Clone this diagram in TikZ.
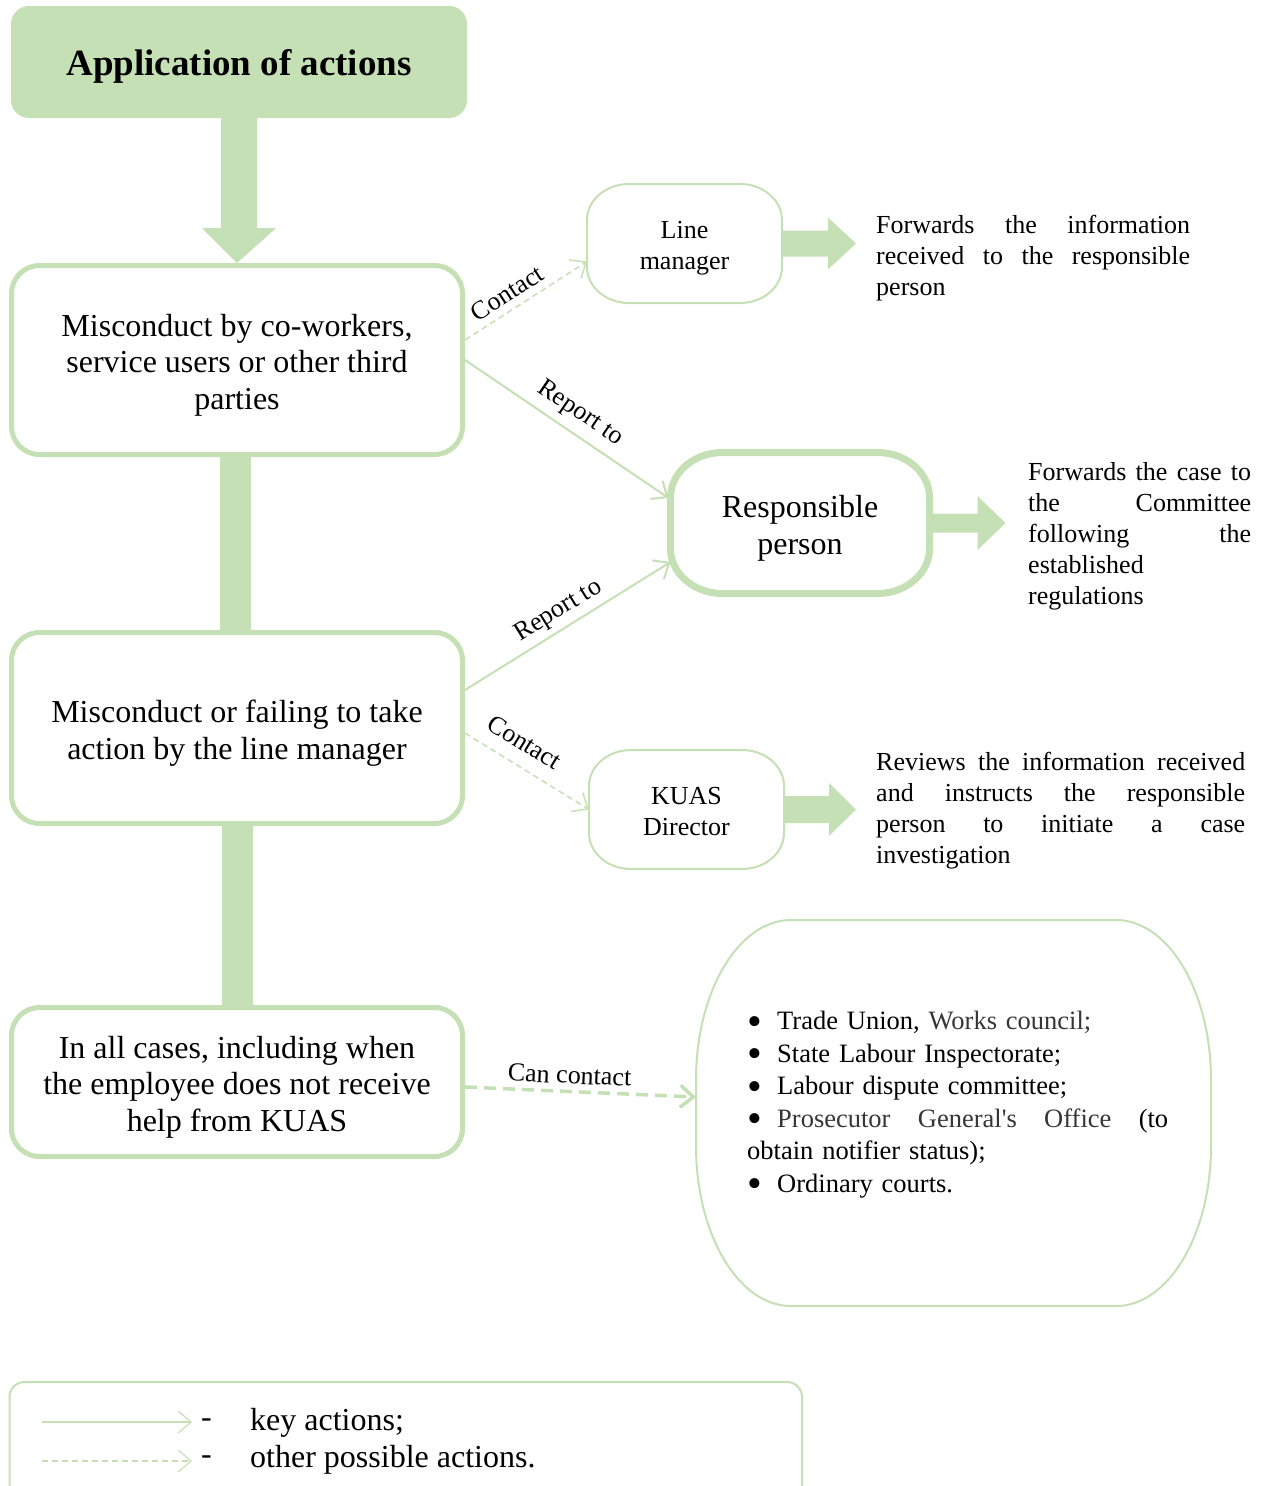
\documentclass[tikz,border=0pt]{standalone}
\usepackage{fontspec}
\setmainfont{Liberation Serif}
\usetikzlibrary{arrows.meta,calc,backgrounds}
\definecolor{gr}{HTML}{C5E0B4}
\definecolor{dk}{HTML}{363636}
\newcommand\fsM{\fontsize{32}{36.5}\selectfont}
\newcommand\fsT{\fontsize{37}{44}\selectfont\bfseries}
\newcommand\fsR{\fontsize{32}{37}\selectfont}
\newcommand\fsS{\fontsize{26}{31}\selectfont}
\newcommand\fsB{\fontsize{26.5}{32.5}\selectfont}
\newcommand\fsL{\fontsize{26}{31}\selectfont}
\newcommand\fsG{\fontsize{32}{37}\selectfont}
\newcommand\bul{\makebox[30pt][l]{\hspace{0.5pt}\raisebox{-5.5pt}{\fontsize{42}{42}\selectfont\textbullet}}}
\newcommand\jst[2]{\leavevmode\hbox to #1{\spaceskip=0.25em plus 1fil\relax #2}}
\newcommand\ellbox[4]{%
\draw[#4] ([xshift=#2]#1.north west) -- ([xshift=-#2]#1.north east)
  arc[start angle=90,end angle=0,x radius=#2,y radius=#3]
  -- ([yshift=#3]#1.south east)
  arc[start angle=0,end angle=-90,x radius=#2,y radius=#3]
  -- ([xshift=#2]#1.south west)
  arc[start angle=270,end angle=180,x radius=#2,y radius=#3]
  -- ([yshift=-#3]#1.north west)
  arc[start angle=180,end angle=90,x radius=#2,y radius=#3] -- cycle;}
\newcommand\rarrow[5]{%
\fill[blk] ($(#1.east)+(0,-#3)$) -- ++(#2,0) -- ($(#1.east)+(#2,-#5)$)
  -- ($(#1.east)+(#2+#4,0)$) -- ($(#1.east)+(#2,#5)$) -- ($(#1.east)+(#2,#3)$)
  -- ($(#1.east)+(0,#3)$) -- cycle;}
\tikzset{
 mainbox/.style={draw=gr, line width=5pt, rounded corners=28pt, fill=white, inner sep=0pt},
 mtext/.style={align=center, font=\fsM, inner sep=0pt},
 titlebox/.style={fill=gr, rounded corners=18pt, minimum width=456pt, minimum height=112pt, inner sep=0pt},
 ebox/.style={draw=none, outer sep=0pt, inner sep=0pt},
 etext/.style={align=center, font=\fsS, inner sep=0pt},
 thinline/.style={draw=gr, line width=2pt},
 keyline/.style={draw=gr, line width=2pt, -{Straight Barb[length=13pt,width=22pt]}},
 otherline/.style={draw=gr, line width=1.5pt, dash pattern=on 6pt off 4pt, -{Straight Barb[length=13pt,width=22pt]}},
 canline/.style={draw=gr, line width=3.5pt, dash pattern=on 12pt off 7pt, -{Straight Barb[length=13pt,width=22pt]}},
 lbl/.style={font=\fsL, sloped, inner sep=2pt},
 desc/.style={font=\fsS, align=left, anchor=west, inner sep=0pt},
 legtext/.style={font=\fsG, anchor=west, inner sep=0pt},
 blk/.style={fill=gr},
}
\begin{document}
\begin{tikzpicture}[x=1pt,y=-1pt]
\useasboundingbox (0,0) rectangle (1263,1486);

% main column
\node[titlebox] (title) at (239,62) {};
\node[font=\fsT, inner sep=0pt] (titlet) at (239,66) {Application of actions};
\node[mainbox, minimum width=451pt, minimum height=189pt] (b1) at (237,360) {};
\node[mainbox, minimum width=451pt, minimum height=191pt] (b2) at (237,728) {};
\node[mainbox, minimum width=451pt, minimum height=149pt] (b3) at (237,1082) {};
\node[mtext] (b1t) at (237,365) {Misconduct by co-workers,\\service users or other third\\parties};
\node[mtext] (b2t) at (237,733) {Misconduct or failing to take\\action by the line manager};
\node[mtext] (b3t) at (237,1087) {In all cases, including when\\the employee does not receive\\help from KUAS};

\begin{pgfonlayer}{background}
\fill[blk] ([xshift=-17pt]b1.south) rectangle ([xshift=14pt]b2.north);
\fill[blk] ([xshift=-15pt]b2.south) rectangle ([xshift=16pt]b3.north);
\end{pgfonlayer}

\fill[blk] ($(title.south)+(-18,0)$) -- ($(title.south)+(18,0)$) -- ($(title.south)+(18,110)$)
  -- ($(title.south)+(37,110)$) -- (b1.north) -- ($(title.south)+(-37,110)$)
  -- ($(title.south)+(-18,110)$) -- cycle;

% right column shapes
\node[ebox, minimum width=195pt, minimum height=119pt] (lm) at (684.5,243.5) {};
\node[ebox, minimum width=259pt, minimum height=141pt] (rp) at (800,523) {};
\node[ebox, minimum width=195pt, minimum height=119pt] (kd) at (686.5,809.5) {};
\node[ebox, minimum width=515pt, minimum height=386pt] (big) at (953.5,1113) {};
\node[etext] (lmt) at (684.5,248.5) {Line\\manager};
\node[etext, font=\fsR] (rpt) at (800,528) {Responsible\\person};
\node[etext] (kdt) at (686.5,811.5) {KUAS\\Director};

\ellbox{lm}{42pt}{36pt}{thinline}
\ellbox{rp}{52pt}{45pt}{draw=gr,line width=7pt}
\ellbox{kd}{42pt}{36pt}{thinline}
\ellbox{big}{95pt}{160pt}{thinline}

\rarrow{lm}{46}{13}{28}{26}
\rarrow{rp}{48}{9.5}{28}{27}
\rarrow{kd}{45}{13.5}{27}{26.5}

% descriptions
\node[desc, text width=314pt] (t1) at (876,258.5)
  {\jst{314pt}{Forwards the information}\\\jst{314pt}{received to the responsible}\\person};
\node[desc, text width=223pt] (t2) at (1028,536)
  {\jst{223pt}{Forwards the case to}\\\jst{223pt}{the Committee}\\\jst{223pt}{following the}\\established\\regulations};
\node[desc, text width=369pt] (t3) at (876,810.5)
  {\jst{369pt}{Reviews the information received}\\\jst{369pt}{and instructs the responsible}\\\jst{369pt}{person to initiate a case}\\investigation};
\node[desc, font=\fsB, text width=421pt] (bl) at (747,1104.5)
  {\bul Trade Union, {\color{dk}Works council;}\\
   \bul State Labour Inspectorate;\\
   \bul Labour dispute committee;\\
   \jst{421pt}{\bul{\color{dk}Prosecutor General\textquotesingle s Office} (to}\\
   obtain notifier status);\\
   \bul Ordinary courts.};

% connectors
\draw[otherline] ([yshift=20pt]b1.east) -- node[lbl, above=5pt, pos=0.42] (c1) {Contact} ([yshift=-18pt]lm.west);
\draw[keyline] (b1.east) -- node[lbl, above=6pt, pos=0.51] (r1) {Report to} ([xshift=-2pt,yshift=25pt]rp.west);
\draw[keyline] ([yshift=38pt]b2.east) -- node[lbl, above=3pt, pos=0.5] (r2) {Report to} ([xshift=0pt,yshift=-39pt]rp.west);
\draw[otherline] ([yshift=-5pt]b2.east) -- node[lbl, above=12pt, pos=0.38] (c2) {Contact} (kd.west);
\draw[canline] ([yshift=-5pt]b3.east) -- node[lbl, above=4pt, pos=0.45] (c3) {Can contact} ([yshift=16pt]big.west);

% legend
\draw[thinline, rounded corners=15pt] (9.5,1382) rectangle (802,1540);
\coordinate (la1) at (42,1422); \coordinate (lb1) at (192,1422);
\coordinate (la2) at (42,1461); \coordinate (lb2) at (192,1461);
\draw[keyline, line width=1.2pt] (la1) -- (lb1);
\draw[otherline, line width=1.2pt] (la2) -- (lb2);
\node[legtext] (d1) at (201,1423) {-};
\node[legtext] (d2) at (201,1460) {-};
\node[legtext] (k1) at (250,1423) {key actions;};
\node[legtext] (k2) at (250,1460) {other possible actions.};
\end{tikzpicture}
\end{document}
